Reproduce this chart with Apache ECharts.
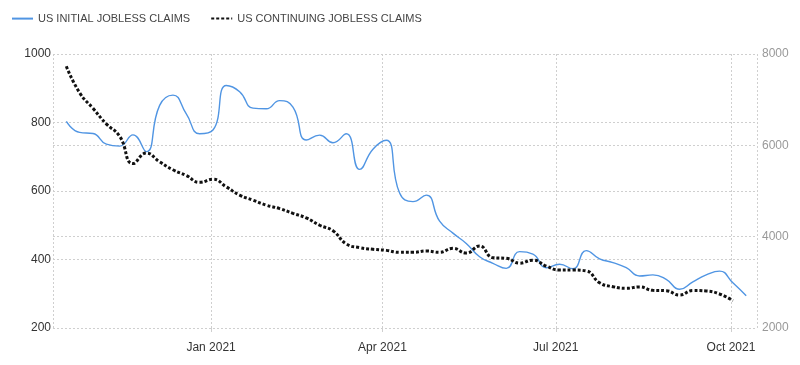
<!DOCTYPE html>
<html>
<head>
<meta charset="utf-8">
<script src="https://cdn.jsdelivr.net/npm/echarts@6/dist/echarts.min.js"></script>
<style>
html,body{margin:0;padding:0;background:#fff;}
#c{width:800px;height:365px;}
</style>
</head>
<body>
<div id="c"></div>
<script>
const weeks = [
  '2020-10-17','2020-10-24','2020-10-31','2020-11-07','2020-11-14','2020-11-21','2020-11-28',
  '2020-12-05','2020-12-12','2020-12-19','2020-12-26','2021-01-02','2021-01-09','2021-01-16',
  '2021-01-23','2021-01-30','2021-02-06','2021-02-13','2021-02-20','2021-02-27','2021-03-06',
  '2021-03-13','2021-03-20','2021-03-27','2021-04-03','2021-04-10','2021-04-17','2021-04-24',
  '2021-05-01','2021-05-08','2021-05-15','2021-05-22','2021-05-29','2021-06-05','2021-06-12',
  '2021-06-19','2021-06-26','2021-07-03','2021-07-10','2021-07-17','2021-07-24','2021-07-31',
  '2021-08-07','2021-08-14','2021-08-21','2021-08-28','2021-09-04','2021-09-11','2021-09-18',
  '2021-09-25','2021-10-02','2021-10-09'
];
const initialClaims = [
  803, 771, 768, 737, 731, 764, 715, 850, 880, 825, 767, 778, 908, 890, 842, 840, 864, 845,
  749, 763, 741, 767, 663, 722, 748, 594, 569, 588, 512, 477, 447, 408, 389, 374, 423, 416,
  376, 386, 373, 426, 402, 391, 376, 352, 355, 342, 313, 335, 355, 366, 332, 294
];
const continuingClaims = [
  7730, 7150, 6810, 6470, 6200, 5600, 5830, 5640, 5465, 5340, 5190, 5256, 5090, 4910, 4800,
  4690, 4615, 4510, 4410, 4250, 4130, 3840, 3760, 3723, 3700, 3657, 3657, 3686, 3657, 3745,
  3640, 3796, 3540, 3526, 3420, 3485, 3355, 3270, 3270, 3250, 2990, 2905, 2869, 2900, 2825,
  2817, 2723, 2820, 2810, 2745, 2598
];
const seriesNames = ['US INITIAL JOBLESS CLAIMS', 'US CONTINUING JOBLESS CLAIMS'];
const leftTicks = [200, 1000, 200];      // min, max, interval
const rightTicks = [2000, 8000, 2000];   // min, max, interval
const xRange = ['2020-10-10', '2021-10-14T16:00:00'];
const monthNames = ['Jan','Feb','Mar','Apr','May','Jun','Jul','Aug','Sep','Oct','Nov','Dec'];

const FONT = "'Liberation Sans', Arial, sans-serif";
const chart = echarts.init(document.getElementById('c'), null, {renderer: 'canvas'});
const gridLine = {show: true, lineStyle: {color: '#cfcfcf', type: [2, 2], width: 1}};
const plain = v => String(v);

chart.setOption({
  animation: false,
  backgroundColor: '#fff',
  legend: {
    left: 11, top: 13, padding: 0,
    itemWidth: 21, itemHeight: 14, itemGap: 20,
    itemStyle: {opacity: 0},
    textStyle: {fontFamily: FONT, fontSize: 11, color: '#444'},
    data: seriesNames
  },
  grid: {left: 53, right: 43, top: 54, bottom: 37, containLabel: false},
  xAxis: {
    type: 'time',
    min: xRange[0], max: xRange[1],
    splitNumber: 4,
    axisLine: {show: false},
    axisTick: {show: true, length: 4, lineStyle: {color: '#cfcfcf'}},
    splitLine: gridLine,
    axisLabel: {
      fontFamily: FONT, fontSize: 12, color: '#333', margin: 14,
      formatter: function (v) {
        const d = new Date(v);
        return monthNames[d.getMonth()] + ' ' + d.getFullYear();
      }
    }
  },
  yAxis: [
    {
      type: 'value', position: 'left',
      min: leftTicks[0], max: leftTicks[1], interval: leftTicks[2],
      axisLine: {show: false}, axisTick: {show: false},
      splitLine: gridLine,
      axisLabel: {fontFamily: FONT, fontSize: 12, color: '#333', margin: 2, formatter: plain}
    },
    {
      type: 'value', position: 'right',
      min: rightTicks[0], max: rightTicks[1], interval: rightTicks[2],
      axisLine: {show: false}, axisTick: {show: false},
      splitLine: gridLine,
      axisLabel: {fontFamily: FONT, fontSize: 12, color: '#999', margin: 5, formatter: plain}
    }
  ],
  series: [
    {
      name: seriesNames[0], type: 'line', yAxisIndex: 0,
      smooth: true, showSymbol: false, symbol: 'none',
      lineStyle: {color: '#5095e3', width: 1.4},
      itemStyle: {color: '#5095e3'},
      data: weeks.map((d, i) => [d, initialClaims[i]])
    },
    {
      name: seriesNames[1], type: 'line', yAxisIndex: 1,
      smooth: true, showSymbol: false, symbol: 'none',
      lineStyle: {color: '#111', width: 3, type: [3, 2]},
      itemStyle: {color: '#111'},
      data: continuingClaims.map((v, i) => [weeks[i], v])
    }
  ]
});
</script>
</body>
</html>
